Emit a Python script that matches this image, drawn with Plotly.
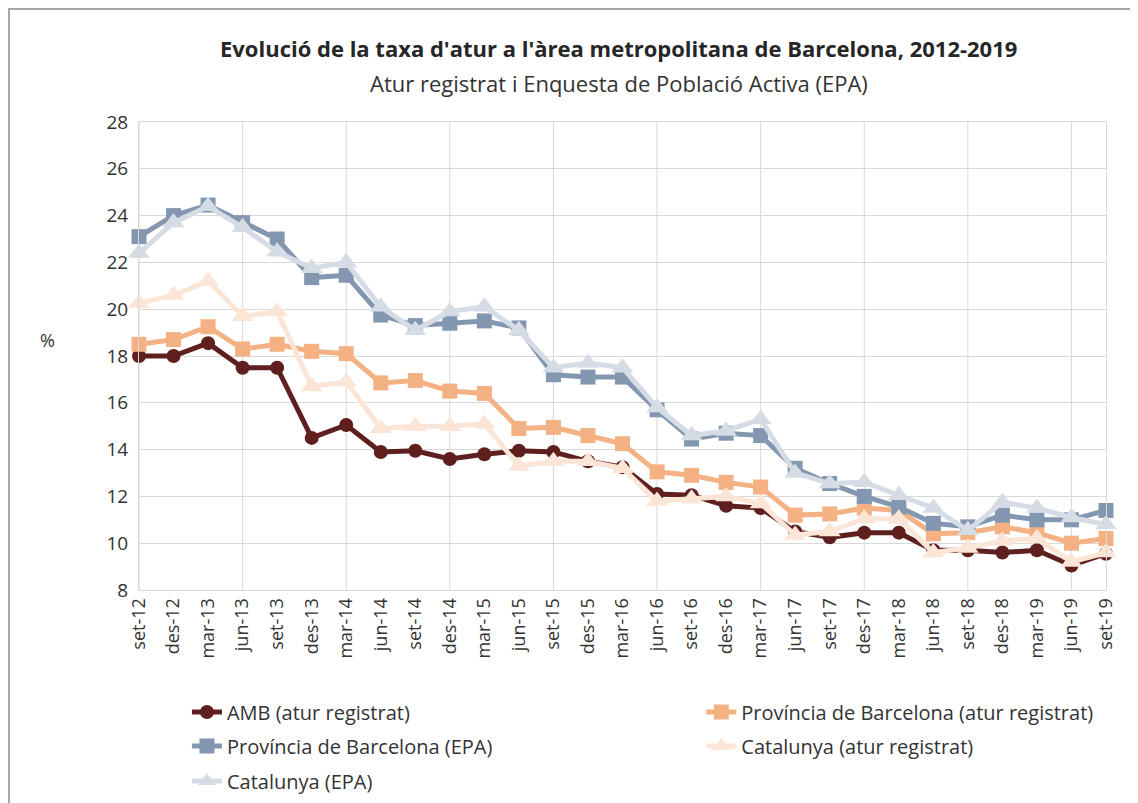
import plotly.graph_objects as go

# quarterly categories
quarters = [
    "set-12", "des-12", "mar-13", "jun-13", "set-13", "des-13", "mar-14", "jun-14",
    "set-14", "des-14", "mar-15", "jun-15", "set-15", "des-15", "mar-16", "jun-16",
    "set-16", "des-16", "mar-17", "jun-17", "set-17", "des-17", "mar-18", "jun-18",
    "set-18", "des-18", "mar-19", "jun-19", "set-19",
]

amb_registrat = [
    18.0, 18.0, 18.55, 17.5, 17.5, 14.5, 15.05, 13.9, 13.95, 13.6, 13.8, 13.95,
    13.9, 13.5, 13.25, 12.1, 12.05, 11.6, 11.5, 10.5, 10.25, 10.45, 10.45, 9.7,
    9.7, 9.6, 9.7, 9.05, 9.55,
]
prov_registrat = [
    18.5, 18.7, 19.25, 18.3, 18.5, 18.2, 18.1, 16.85, 16.95, 16.5, 16.4, 14.9,
    14.95, 14.6, 14.25, 13.05, 12.9, 12.6, 12.4, 11.2, 11.25, 11.5, 11.4, 10.4,
    10.45, 10.7, 10.45, 10.0, 10.2,
]
prov_epa = [
    23.1, 24.0, 24.45, 23.7, 23.0, 21.35, 21.45, 19.75, 19.3, 19.4, 19.5, 19.2,
    17.2, 17.1, 17.1, 15.7, 14.45, 14.7, 14.6, 13.2, 12.55, 12.0, 11.55, 10.85,
    10.7, 11.2, 11.0, 11.0, 11.4,
]
cat_registrat = [
    20.25, 20.6, 21.2, 19.7, 19.9, 16.7, 16.9, 14.9, 15.0, 15.0, 15.1, 13.3,
    13.5, 13.5, 13.2, 11.8, 11.9, 12.0, 11.7, 10.35, 10.5, 11.05, 11.05, 9.6,
    9.8, 10.1, 10.2, 9.2, 9.6,
]
cat_epa = [
    22.4, 23.7, 24.4, 23.5, 22.45, 21.75, 22.0, 20.1, 19.1, 19.9, 20.1, 19.1,
    17.5, 17.7, 17.5, 15.8, 14.6, 14.8, 15.3, 13.0, 12.55, 12.6, 12.05, 11.5,
    10.55, 11.75, 11.5, 11.1, 10.8,
]

# name, values, colour, marker, size
series = [
    ("AMB (atur registrat)", amb_registrat, "#601f1f", "circle", 14),
    ("Província de Barcelona (atur registrat)", prov_registrat, "#f4b183", "square", 15),
    ("Província de Barcelona (EPA)", prov_epa, "#8497b0", "square", 15),
    ("Catalunya (atur registrat)", cat_registrat, "#fbe5d6", "triangle-up", 19),
    ("Catalunya (EPA)", cat_epa, "#d6dce5", "triangle-up", 19),
]

# legend slots: two columns (paper x), three rows (container y)
legend_cols = [0.0496, 0.5815]
legend_rows = [0.1145, 0.0717, 0.0277]

FONT = "'Open Sans', 'Noto Sans', sans-serif"
TEXT = "#333333"

# the page adds an 8px body margin, so the figure is 8px smaller than the window
W, H = 1130, 795

fig = go.Figure()
legends = {}
for i, (name, values, color, symbol, size) in enumerate(series):
    key = "legend" if i == 0 else f"legend{i + 1}"
    legends[key] = dict(
        orientation="h",
        x=legend_cols[i % 2], xanchor="left",
        y=legend_rows[i // 2], yanchor="middle", yref="container",
        font=dict(family=FONT, size=20, color=TEXT),
        bgcolor="rgba(0,0,0,0)",
    )
    fig.add_trace(go.Scatter(
        x=quarters,
        y=values,
        name=name,
        mode="lines+markers",
        line=dict(color=color, width=5),
        marker=dict(symbol=symbol, size=size, color=color),
        cliponaxis=False,
        legend=key,
        showlegend=True,
    ))

# vertical gridlines every third quarter, like the original
shapes = []
for q in quarters[::3]:
    shapes.append(dict(type="line", xref="x", yref="paper", x0=q, x1=q, y0=0, y1=1,
                       line=dict(color="#d9d9d9", width=1), layer="below"))
# outer frame of the chart
shapes.append(dict(type="rect", xref="paper", yref="paper",
                   x0=-0.1344, x1=1.05, y0=-0.6, y1=1.2415,
                   line=dict(color="#a6a6a6", width=2)))

fig.update_layout(
    width=W,
    height=H,
    showlegend=True,
    paper_bgcolor="white",
    plot_bgcolor="white",
    font=dict(family=FONT, size=18, color=TEXT),
    margin=dict(l=131, r=32, t=114, b=213),
    xaxis=dict(
        type="category",
        range=[0, len(quarters) - 1],
        showgrid=False,
        tickangle=-90,
        tickfont=dict(size=18, color=TEXT),
        showline=True, linecolor="#d9d9d9", mirror=True,
        ticks="",
        automargin=False,
    ),
    yaxis=dict(
        range=[8, 28],
        dtick=2,
        showgrid=True,
        gridcolor="#d9d9d9",
        zeroline=False,
        showline=True, linecolor="#d9d9d9", mirror=True,
        tickfont=dict(size=19, color=TEXT),
        ticks="",
        ticklabelstandoff=6,
        automargin=False,
    ),
    shapes=shapes,
    annotations=[
        dict(text="<b>Evolució de la taxa d'atur a l'àrea metropolitana de Barcelona, 2012-2019</b>",
             xref="paper", yref="paper", x=0.496, y=1.158, xanchor="center", yanchor="middle",
             showarrow=False, font=dict(family=FONT, size=22, color="#262626")),
        dict(text="Atur registrat i Enquesta de Població Activa (EPA)",
             xref="paper", yref="paper", x=0.496, y=1.0833, xanchor="center", yanchor="middle",
             showarrow=False, font=dict(family=FONT, size=22, color=TEXT)),
        dict(text="%", xref="paper", yref="paper", x=-0.095, y=0.535,
             xanchor="center", yanchor="middle",
             showarrow=False, font=dict(family=FONT, size=18, color=TEXT)),
    ],
    **legends,
)

fig.write_html("out.html")
